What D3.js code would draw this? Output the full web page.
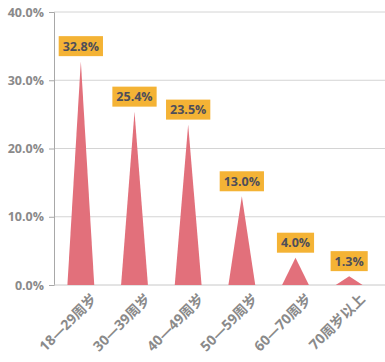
<!DOCTYPE html>
<meta charset="utf-8">
<style>
	body { margin: 0; background: #fff; }
	text { font-family: "Open Sans", "Noto Sans CJK SC", sans-serif; }
</style>
<script src="https://cdn.jsdelivr.net/npm/d3@7"></script>
<body>
<div id="chart"></div>
<script>
	// 年龄段与占比
	let categories = ["18—29周岁", "30—39周岁", "40—49周岁", "50—59周岁", "60—70周岁", "70周岁以上"];
	let values = [32.8, 25.4, 23.5, 13.0, 4.0, 1.3];
	let yTicks = [0, 10, 20, 30, 40];

	let margin = { top: 12, right: 9, bottom: 77, left: 54 },
		width = 385 - margin.left - margin.right,
		height = 362 - margin.top - margin.bottom;

	let svg = d3.select("#chart")
		.append("svg")
		.attr("width", 385)
		.attr("height", 362)
		.append("g")
		.attr("transform", "translate(" + margin.left + "," + margin.top + ")");

	let x = d3.scaleBand().domain(categories).range([0, width]).padding(0);
	let y = d3.scaleLinear().domain([0, 40]).range([height, 0]);

	// 网格线
	svg.append("g")
		.selectAll("line")
		.data(yTicks.slice(1))
		.join("line")
		.attr("x1", 0).attr("x2", width + margin.right)
		.attr("y1", d => y(d)).attr("y2", d => y(d))
		.attr("stroke", "#d4d4d4");

	let yAxis = svg.append("g")
		.call(d3.axisLeft(y).tickValues(yTicks).tickFormat(d => d.toFixed(1) + "%").tickSize(5).tickPadding(5));
	yAxis.select(".domain").attr("stroke", "#a8a8a8");
	yAxis.selectAll(".tick line").attr("stroke", "#a8a8a8");
	yAxis.selectAll("text")
		.attr("fill", "#8a8a8a")
		.style("font-size", "12.5px")
		.style("font-weight", "bold");

	let xAxis = svg.append("g")
		.attr("transform", "translate(0," + height + ")")
		.call(d3.axisBottom(x).tickSize(0).tickPadding(14));
	xAxis.select(".domain").attr("stroke", "#c8c8c8").attr("d", "M0,0H" + (width + margin.right));
	xAxis.selectAll("text")
		.attr("fill", "#8a8a8a")
		.style("font-size", "14px")
		.style("font-weight", "bold")
		.style("text-anchor", "end")
		.attr("dx", "0.1em")
		.attr("dy", "0.6em")
		.attr("transform", "rotate(-45)");

	// 三角形柱
	let bw = x.bandwidth() / 2;
	svg.append("g")
		.selectAll("path")
		.data(values)
		.join("path")
		.attr("d", (d, i) => {
			let cx = x(categories[i]) + x.bandwidth() / 2;
			return "M" + (cx - bw / 2) + "," + y(0) + "L" + cx + "," + y(d) + "L" + (cx + bw / 2) + "," + y(0) + "Z";
		})
		.attr("fill", "#e2707b");

	// 数值标签
	let labels = svg.append("g")
		.selectAll("g")
		.data(values)
		.join("g")
		.attr("transform", (d, i) => "translate(" + (x(categories[i]) + x.bandwidth() / 2) + "," + (y(d) - 15) + ")");

	labels.append("text")
		.text(d => d.toFixed(1) + "%")
		.attr("text-anchor", "middle")
		.attr("dy", "0.35em")
		.attr("fill", "#4e4e5a")
		.style("font-size", "12.5px")
		.style("font-weight", "bold")
		.each(function () {
			let b = this.getBBox();
			d3.select(this.parentNode).insert("rect", "text")
				.attr("x", b.x - 4).attr("y", -10)
				.attr("width", b.width + 8).attr("height", 20)
				.attr("fill", "#f4b335");
		});
</script>
</body>
